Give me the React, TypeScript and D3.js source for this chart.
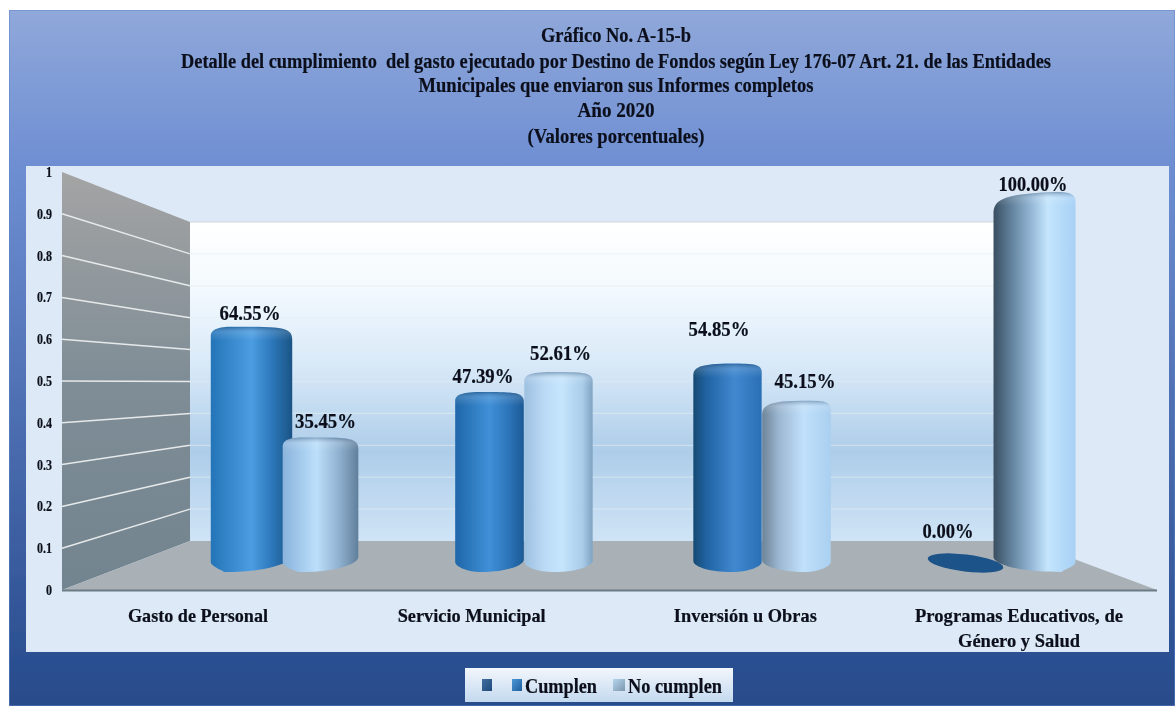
import React from "react";
import * as d3 from "d3";

const titleLines = [
  "Gráfico No. A-15-b",
  "Detalle del cumplimiento  del gasto ejecutado por Destino de Fondos según Ley 176-07 Art. 21. de las Entidades",
  "Municipales que enviaron sus Informes completos",
  "Año 2020",
  "(Valores porcentuales)",
];
const categories = ["Gasto de Personal", "Servicio Municipal", "Inversión u Obras", "Programas Educativos, de|Género y Salud"];
const seriesNames = ["Cumplen", "No cumplen"];
const cumplen = [64.55, 47.39, 54.85, 0];
const noCumplen = [35.45, 52.61, 45.15, 100];
const yTicks = [0, 0.1, 0.2, 0.3, 0.4, 0.5, 0.6, 0.7, 0.8, 0.9, 1];

// ---- layout and style ----
const W = 1175, H = 706;
const FONT = "'Liberation Serif', 'Times New Roman', serif";
const titleBaselines = [42, 68, 92, 117, 143];
const titleWidths = [150, 870, 395, 77, 177];
const catWidths = [[140], [148], [143], [208, 122]];
const labelNudge: [number, number][][] = [
  [[-1.5, 7], [5, 9]],
  [[-6.5, 9], [2, 12]],
  [[-8.5, 28], [8.5, 12]],
  [[-17.5, 34], [-1.5, 1]],
];
const shades: [number, string][][][] = [
  [
    [[0, "#2474b8"], [0.5, "#4c9de2"], [0.75, "#2c77ba"], [1, "#1a5485"]],
    [[0, "#8ab4dc"], [0.45, "#bcdffb"], [0.75, "#8fb0cf"], [1, "#607f9b"]],
  ],
  [
    [[0, "#1f67a8"], [0.5, "#4090d8"], [0.8, "#2a72b6"], [1, "#1c5a96"]],
    [[0, "#9dc0e0"], [0.3, "#bbdaf5"], [0.55, "#c6e5fd"], [0.85, "#a9cce9"], [1, "#7fa3c3"]],
  ],
  [
    [[0, "#174a72"], [0.2, "#2164a4"], [0.6, "#4088d0"], [1, "#2a70b6"]],
    [[0, "#6d8498"], [0.25, "#9db8d2"], [0.6, "#c0e0fb"], [1, "#aacff0"]],
  ],
  [
    [[0, "#1c5288"], [1, "#1c5288"]],
    [[0, "#3a4e60"], [0.2, "#5f7e98"], [0.45, "#93b5d4"], [0.66, "#c4e5fc"], [1, "#a7d0f5"]],
  ],
];

const yLeft = d3.scaleLinear().domain([0, 1]).range([590, 172]);
const yBack = d3.scaleLinear().domain([0, 1]).range([541, 222]);
const yBar = d3.scaleLinear().domain([0, 100]).range([572, 192]);
const xGroup = d3.scalePoint<string>().domain(categories).range([286, 1000]);
const xSeries = d3.scalePoint<string>().domain(seriesNames).range([-34.5, 34.5]);
const xCat = d3.scalePoint<string>().domain(categories).range([198, 1019]);
const widthAt = d3.scaleLinear().domain([0, 240, 395]).range([68, 69, 82]);

const WALL_L = 62, WALL_R = 190, BACK_R = 1026, FLOOR_R = 1157;

function barPath(cx: number, w: number, yt: number, yb: number) {
  const t = (cx - 640) / 395;
  const xl = cx - w / 2, xr = cx + w / 2;
  const up = Math.max(0, t), um = Math.max(0, -t);
  const yTL = yt + 9 + up * 13;
  const yTR = yt + 9 + um * 4;
  const yBL = yb - 10 - up * 5;
  const yBR = yb - 10 - um * 6;
  const low = cx + t * w * 0.35;
  const peak = cx + t * w * 0.25;
  const p = d3.path();
  p.moveTo(xl, yBL);
  p.lineTo(xl, yTL);
  p.bezierCurveTo(xl, yt + 2 + up * 5, xl + w * 0.12, yt + up * 2, peak, yt);
  p.bezierCurveTo(xr - w * 0.1, yt, xr, yt + 1, xr, yTR);
  p.lineTo(xr, yBR);
  p.bezierCurveTo(xr, yBR + 5, xr - w * 0.22, yb, low, yb);
  p.bezierCurveTo(xl + w * 0.2, yb, xl, yBL + 5, xl, yBL);
  p.closePath();
  return p.toString();
}

function Fit({ x, y, w, size, anchor = "middle", fill = "#0a111c", children }: any) {
  return (
    <text x={x} y={y} fontFamily={FONT} fontWeight="bold" fontSize={size} fill={fill} stroke={fill} strokeWidth={0.2}
      textAnchor={anchor} textLength={w} lengthAdjust="spacingAndGlyphs" style={{ whiteSpace: "pre" }}>
      {children}
    </text>
  );
}

export default function App() {
  const floor = d3.line()([[WALL_L, yLeft(0)], [WALL_R, yBack(0)], [BACK_R, yBack(0)], [FLOOR_R, yLeft(0)]]) + "Z";
  const wall = d3.line()([[WALL_L, yLeft(1)], [WALL_R, yBack(1)], [WALL_R, yBack(0)], [WALL_L, yLeft(0)]]) + "Z";
  const bars = categories.flatMap((c, i) =>
    seriesNames.map((s, j) => {
      const v = (j === 0 ? cumplen : noCumplen)[i];
      const cx = (xGroup(c) as number) + (xSeries(s) as number);
      const w = widthAt(Math.abs(cx - 640));
      return { c, s, i, j, v, cx, w, id: `b${i}${j}` };
    })
  );
  return (
    <svg width={W} height={H} viewBox={`0 0 ${W} ${H}`} style={{ position: "absolute", left: 0, top: 0, display: "block" }}>
      <defs>
        <filter id="soft" x="0" y="0" width="100%" height="100%">
          <feGaussianBlur stdDeviation="0.5" />
        </filter>
        <linearGradient id="outer" x1="0" y1="0" x2="0" y2="1">
          <stop offset="0" stopColor="#90a8da" />
          <stop offset="0.22" stopColor="#6f8fd3" />
          <stop offset="0.93" stopColor="#2c5092" />
          <stop offset="1" stopColor="#2b4b8a" />
        </linearGradient>
        <linearGradient id="back" x1="0" y1="0" x2="0" y2="1">
          <stop offset="0" stopColor="#ffffff" />
          <stop offset="0.2" stopColor="#f4fafe" />
          <stop offset="0.45" stopColor="#d8e9f8" />
          <stop offset="0.72" stopColor="#aecde9" />
          <stop offset="1" stopColor="#cfe4f6" />
        </linearGradient>
        <linearGradient id="wall" x1="0" y1="0" x2="0" y2="1">
          <stop offset="0" stopColor="#a4a4a4" />
          <stop offset="0.5" stopColor="#7f8d96" />
          <stop offset="1" stopColor="#72848f" />
        </linearGradient>
        <linearGradient id="legendBg" x1="0" y1="0" x2="0" y2="1">
          <stop offset="0" stopColor="#f2f6fc" />
          <stop offset="1" stopColor="#c4d9ef" />
        </linearGradient>
        <linearGradient id="cap" x1="0" y1="0" x2="0" y2="1">
          <stop offset="0" stopColor="#0a2a50" stopOpacity="0.35" />
          <stop offset="0.45" stopColor="#ffffff" stopOpacity="0.12" />
          <stop offset="1" stopColor="#ffffff" stopOpacity="0" />
        </linearGradient>
        <linearGradient id="mark1" x1="0" y1="0" x2="1" y2="1">
          <stop offset="0" stopColor="#3f6f9f" />
          <stop offset="1" stopColor="#1f4a7c" />
        </linearGradient>
        <linearGradient id="mark2" x1="0" y1="0" x2="1" y2="1">
          <stop offset="0" stopColor="#4c96d6" />
          <stop offset="1" stopColor="#1f5f9e" />
        </linearGradient>
        <linearGradient id="mark3" x1="0" y1="0" x2="1" y2="1">
          <stop offset="0" stopColor="#b4d4ee" />
          <stop offset="1" stopColor="#7c97ae" />
        </linearGradient>
        {bars.map((b) => (
          <linearGradient key={b.id} id={b.id} x1="0" y1="0" x2="1" y2="0">
            {shades[b.i][b.j].map(([o, col]) => (
              <stop key={o} offset={o} stopColor={col} />
            ))}
          </linearGradient>
        ))}
        {bars.map((b) => (
          <clipPath key={b.id} id={`c${b.id}`}>
            <path d={barPath(b.cx, b.w, yBar(b.v), yBar(0))} />
          </clipPath>
        ))}
      </defs>
      <rect width={W} height={H} fill="#ffffff" />
      <g filter="url(#soft)">
        <rect x={9} y={10} width={W - 9} height={H - 10} fill="url(#outer)" stroke="#5f86c8" strokeWidth={1} />
        <rect x={26} y={166} width={1143} height={486} fill="#dde9f6" />

        {titleLines.map((t, i) => (
          <Fit key={i} x={616} y={titleBaselines[i]} w={titleWidths[i]} size={20}>{t}</Fit>
        ))}

        <rect x={WALL_R} y={yBack(1)} width={BACK_R - WALL_R} height={yBack(0) - yBack(1)} fill="url(#back)" />
        <path d={wall} fill="url(#wall)" />
        <path d={floor} fill="#a9b1b6" />
        <line x1={WALL_L} x2={FLOOR_R} y1={yLeft(0) + 0.5} y2={yLeft(0) + 0.5} stroke="#6c7c86" strokeWidth={2} />

        {yTicks.slice(1).map((v) => (
          <g key={v}>
            {v < 1 && <line x1={WALL_L} y1={yLeft(v)} x2={WALL_R} y2={yBack(v)} stroke="#e6e9ea" strokeWidth={1.5} />}
            <line x1={WALL_R} x2={BACK_R} y1={yBack(v)} y2={yBack(v)} stroke={v === 1 ? "#cfd8de" : "#e3edf3"} strokeOpacity={v === 1 ? 1 : 0.55} strokeWidth={1.2} />
          </g>
        ))}
        {yTicks.map((v) => (
          <Fit key={v} x={52} y={yLeft(v) + 5} anchor="end" size={14} w={v === 0 || v === 1 ? 6 : 15}>
            {String(v)}
          </Fit>
        ))}

        {bars.map((b) => {
          const yt = yBar(b.v), yb = yBar(0);
          if (b.v === 0) {
            const cy = yb - 9;
            return (
              <ellipse key={b.id} cx={b.cx} cy={cy} rx={b.w / 2} ry={8.5} fill={`url(#${b.id})`}
                transform={`rotate(7 ${b.cx} ${cy})`} />
            );
          }
          return (
            <g key={b.id}>
              <path d={barPath(b.cx, b.w, yt, yb)} fill={`url(#${b.id})`} />
              <rect x={b.cx - b.w / 2} y={yt} width={b.w} height={14} fill="url(#cap)" clipPath={`url(#c${b.id})`} />
            </g>
          );
        })}

        {bars.map((b) => {
          const [dx, dy] = labelNudge[b.i][b.j];
          return (
            <Fit key={b.id} x={b.cx + dx} y={yBar(b.v) - dy} w={b.v === 100 ? 69 : b.v === 0 ? 51 : 61} size={20}>
              {d3.format(".2f")(b.v) + "%"}
            </Fit>
          );
        })}

        {categories.map((c, i) =>
          c.split("|").map((line, k) => (
            <Fit key={line} x={xCat(c)} y={622 + k * 25} w={catWidths[i][k]} size={19.5}>{line}</Fit>
          ))
        )}

        <rect x={465} y={668} width={268} height={34} fill="url(#legendBg)" />
        <rect x={482} y={679} width={10} height={12} fill="url(#mark1)" />
        <rect x={512} y={679} width={10} height={12} fill="url(#mark2)" />
        <rect x={613} y={679} width={12} height={12} fill="url(#mark3)" />
        <Fit x={525} y={693} w={72} size={21} anchor="start">{seriesNames[0]}</Fit>
        <Fit x={628} y={693} w={94} size={21} anchor="start">{seriesNames[1]}</Fit>
      </g>
    </svg>
  );
}
